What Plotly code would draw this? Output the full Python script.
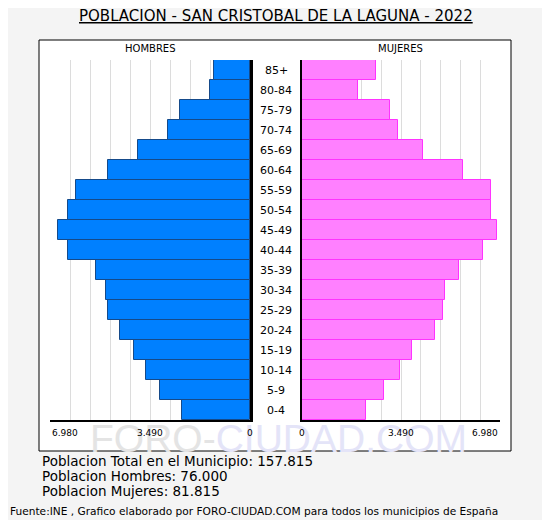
import plotly.graph_objects as go

# ---------------------------- DATA ----------------------------
ages = ["0-4", "5-9", "10-14", "15-19", "20-24", "25-29", "30-34", "35-39", "40-44",
        "45-49", "50-54", "55-59", "60-64", "65-69", "70-74", "75-79", "80-84", "85+"]
hombres = [2363, 3130, 3619, 4038, 4527, 4945, 5015, 5364, 6341,
           6690, 6341, 6062, 4945, 3898, 2851, 2432, 1385, 1246]
mujeres = [2258, 2886, 3445, 3864, 4701, 4980, 5050, 5539, 6376,
           6865, 6655, 6655, 5678, 4282, 3375, 3096, 1979, 2607]

axis_max = 6980
tick_vals = [0, 3490, 6980]
tick_text = ["0", "3.490", "6.980"]

title = "POBLACION - SAN CRISTOBAL DE LA LAGUNA - 2022"
summary = ["Poblacion Total en el Municipio: 157.815",
           "Poblacion Hombres: 76.000",
           "Poblacion Mujeres: 81.815"]
footer = "Fuente:INE , Grafico elaborado por FORO-CIUDAD.COM para todos los municipios de España"

# the page body has an 8px margin, so the figure is 8px smaller and shifted
OFF = 8
W, H = 550 - OFF, 520 - OFF
FONT = "DejaVu Sans"


def px(x):
    return (x - OFF) / W


def py(y):
    return 1 - (y - OFF) / H


fig = go.Figure()

fig.add_trace(go.Bar(
    y=ages, x=hombres, orientation="h", xaxis="x", yaxis="y",
    marker=dict(color="#0080ff", line=dict(color="#154a8a", width=1)),
    hoverinfo="x+y", showlegend=False,
))
fig.add_trace(go.Bar(
    y=ages, x=mujeres, orientation="h", xaxis="x2", yaxis="y2",
    marker=dict(color="#ff80ff", line=dict(color="#ff33ff", width=1)),
    hoverinfo="x+y", showlegend=False,
))

grid = dict(showgrid=True, gridcolor="#dcdcdc", gridwidth=1, tick0=0, dtick=698,
            showticklabels=False, zeroline=False, ticks="",
            showline=True, linecolor="black", linewidth=2, fixedrange=True)
yax = dict(domain=[py(420), py(60)], range=[-0.5, len(ages) - 0.5],
           categoryorder="array", categoryarray=ages,
           showticklabels=False, showgrid=False, zeroline=False, ticks="",
           showline=True, linecolor="black", fixedrange=True)

fig.update_layout(
    width=W, height=H,
    margin=dict(l=0, r=0, t=0, b=0),
    paper_bgcolor="#f4f4f4",
    plot_bgcolor="white",
    bargap=0,
    font=dict(family=FONT, color="black"),
    xaxis=dict(domain=[px(50), px(250)], range=[axis_max, 0], anchor="y", **grid),
    xaxis2=dict(domain=[px(302), px(500)], range=[0, axis_max], anchor="y2", **grid),
    yaxis=dict(anchor="x", side="right", linewidth=3, **yax),
    yaxis2=dict(anchor="x2", side="left", linewidth=2, **yax),
)

# panel box
fig.add_shape(type="rect", xref="paper", yref="paper",
              x0=px(39), x1=px(511), y0=py(451), y1=py(40),
              fillcolor="white", line=dict(color="black", width=1), layer="below")


def note(x, y, text, size, xanchor="center", xref="paper", yref="paper", **kw):
    return dict(x=x, y=y, xref=xref, yref=yref, text=text, xanchor=xanchor,
                yanchor="middle", font=dict(size=size, **kw), showarrow=False)


ann = []
# watermark
ann.append(note(px(278), py(438),
                "<span style='color:#e4e4e4'>FORO-</span>"
                "<span style='color:#e4e4f8'>CIUDAD.COM</span>",
                39, family="Liberation Sans"))
# title
ann.append(note(px(276), py(16), "<u>" + title + "</u>", 15))
# panel headers
ann.append(note(px(150), py(48), "HOMBRES", 10))
ann.append(note(px(400), py(48), "MUJERES", 10))
# age labels in the middle
for a in ages:
    ann.append(note(px(276), a, a, 11, yref="y"))
# x tick labels
for ax, edge in (("x", "left"), ("x2", "right")):
    for v, t in zip(tick_vals, tick_text):
        ann.append(note(v, py(433), t, 9,
                        xanchor=edge if v == axis_max else "center", xref=ax))
# summary lines
for i, s in enumerate(summary):
    ann.append(note(px(40), py(461 + 15 * i), s, 13.5, xanchor="left"))
ann.append(note(px(8), py(511), footer, 10.6, xanchor="left"))

fig.update_layout(annotations=ann)

fig.write_html("out.html")
